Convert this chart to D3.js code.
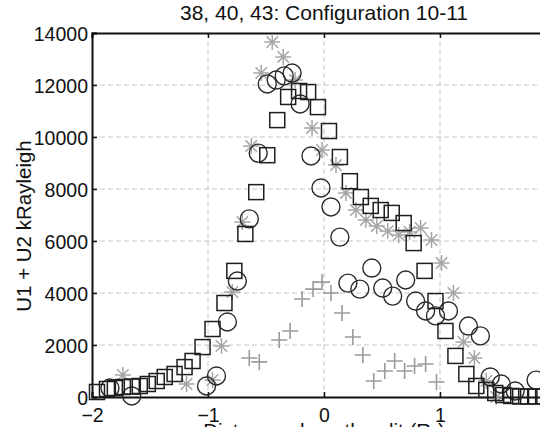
<!DOCTYPE html>
<html>
<head>
<meta charset="utf-8">
<script src="https://cdn.jsdelivr.net/npm/d3@7"></script>
<style>
  body { margin: 0; background: #fff; }
  text { font-family: "Liberation Sans", Arial, sans-serif; fill: #111; }
</style>
</head>
<body>
<script>
'use strict';

// tick values (x = 2 falls just past the right edge of the window)
const xTicks = [-2, -1, 0, 1];
const yTicks = [0, 2000, 4000, 6000, 8000, 10000, 12000, 14000];

// squares (black)
const squareX = [-1.957, -1.871, -1.803, -1.734, -1.657, -1.588, -1.519, -1.442, -1.373, -1.288,
  -1.202, -1.133, -1.047, -0.961, -0.858, -0.773, -0.678, -0.584, -0.489, -0.403,
  -0.309, -0.215, -0.137, -0.052, 0.043, 0.137, 0.223, 0.318, 0.403, 0.489,
  0.584, 0.687, 0.773, 0.867, 0.961, 1.047, 1.133, 1.227, 1.313, 1.399,
  1.476, 1.545, 1.614, 1.691, 1.760, 1.828, 1.900, 1.970];
const squareY = [192, 308, 346, 385, 400, 423, 500, 615, 770, 885,
  1150, 1385, 1920, 2615, 3615, 4850, 6270, 7880, 9300, 10650,
  11540, 11770, 11730, 11150, 10230, 9230, 8300, 7690, 7350, 7190,
  7080, 6690, 5920, 4850, 3690, 2540, 1580, 885, 423, 270,
  154, 77, 40, 20, 20, 20, 20, 20];

// circles (black)
const circleX = [-1.845, -1.657, -1.013, -0.927, -0.833, -0.747, -0.644, -0.567, -0.489, -0.412,
  -0.343, -0.275, -0.206, -0.112, -0.026, 0.060, 0.137, 0.206, 0.309, 0.412,
  0.506, 0.592, 0.704, 0.790, 0.876, 0.961, 1.073, 1.245, 1.348, 1.433,
  1.528, 1.648, 1.828];
const circleY = [346, 40, 423, 808, 2885, 4460, 6850, 9380, 12040, 12190,
  12350, 12460, 11270, 9270, 8040, 7310, 6150, 4380, 4150, 4960,
  4190, 3880, 4500, 3690, 3310, 3120, 3310, 2730, 2350, 770,
  500, 230, 650];

// asterisks (grey)
const starX = [-1.734, -1.185, -0.961, -0.884, -0.790, -0.704, -0.627, -0.541, -0.446, -0.352,
  -0.249, -0.103, -0.017, 0.103, 0.189, 0.275, 0.361, 0.455, 0.549, 0.644,
  0.738, 0.833, 0.927, 1.013, 1.116, 1.202, 1.296, 1.399, 1.485];
const starY = [846, 500, 654, 1960, 4040, 6730, 9650, 12460, 13650, 13080,
  12190, 10350, 9500, 8920, 7850, 7190, 6810, 6580, 6380, 6230,
  6350, 6500, 6040, 5150, 4000, 2120, 1500, 615, 0];

// plus signs (grey)
const plusX = [-0.644, -0.558, -0.386, -0.292, -0.189, -0.094, -0.017, 0.060, 0.155, 0.249,
  0.335, 0.429, 0.524, 0.609, 0.695, 0.781, 0.876, 0.970];
const plusY = [1500, 1350, 2190, 2540, 3770, 4150, 4420, 4000, 3230, 2310,
  1615, 615, 1000, 1385, 1000, 1190, 1270, 577];

(function() {

  const width = 540, height = 427;
  const left = 92, right = 556, top = 33, bottom = 397;

  let svg = d3.select('body')
    .append('svg')
    .attr('width', width)
    .attr('height', height);

  let xScale = d3.scaleLinear().domain([-2, 2]).range([left, right]);
  let yScale = d3.scaleLinear().domain([0, 14000]).range([bottom, top]);

  // dashed grid
  let grid = svg.append('g')
    .attr('stroke', '#c4c4c4')
    .attr('stroke-width', 1)
    .attr('stroke-dasharray', '5,3');
  xTicks.slice(1).forEach(function(t) {
    grid.append('line')
      .attr('x1', xScale(t)).attr('x2', xScale(t))
      .attr('y1', top).attr('y2', bottom);
  });
  yTicks.slice(1, -1).forEach(function(t) {
    grid.append('line')
      .attr('x1', left).attr('x2', right)
      .attr('y1', yScale(t)).attr('y2', yScale(t));
  });

  // axes with inward ticks
  let xAxis = d3.axisBottom(xScale).tickValues(xTicks).tickSize(-5).tickPadding(11)
    .tickFormat(d3.format('d'));
  svg.append('g')
    .attr('class', 'axis')
    .attr('transform', 'translate(0,' + bottom + ')')
    .call(xAxis);

  let xAxisTop = d3.axisTop(xScale).tickValues(xTicks).tickSize(-5).tickFormat('');
  svg.append('g')
    .attr('class', 'axis')
    .attr('transform', 'translate(0,' + top + ')')
    .call(xAxisTop);

  let yAxis = d3.axisLeft(yScale).tickValues(yTicks).tickSize(-5).tickPadding(4)
    .tickFormat(d3.format('d'));
  svg.append('g')
    .attr('class', 'axis y')
    .attr('transform', 'translate(' + left + ',0)')
    .call(yAxis);

  svg.selectAll('.axis path')
    .attr('stroke', '#111')
    .attr('stroke-width', 2);
  svg.selectAll('.axis line')
    .attr('stroke', '#111')
    .attr('stroke-width', 1.5);
  svg.selectAll('.axis text')
    .style('font-size', '19.5px')
    .style('font-family', '"Liberation Sans", Arial, sans-serif')
    .attr('fill', '#111');
  svg.selectAll('.axis.y text')
    .attr('dy', '0.38em');

  // grey plus signs
  let plusData = plusX.map((x, i) => ({ x: x, y: plusY[i] }));
  svg.append('g').selectAll('path')
    .data(plusData)
    .enter()
    .append('path')
    .attr('d', 'M-8,0H8M0,-8V8')
    .attr('transform', (d) => 'translate(' + xScale(d.x) + ',' + yScale(d.y) + ')')
    .attr('stroke', '#9a9a9a')
    .attr('stroke-width', 1.6)
    .attr('fill', 'none');

  // grey asterisks
  let starData = starX.map((x, i) => ({ x: x, y: starY[i] }));
  svg.append('g').selectAll('path')
    .data(starData)
    .enter()
    .append('path')
    .attr('d', 'M-8,0H8M0,-8V8M-5.7,-5.7L5.7,5.7M-5.7,5.7L5.7,-5.7')
    .attr('transform', (d) => 'translate(' + xScale(d.x) + ',' + yScale(d.y) + ')')
    .attr('stroke', '#a6a6a6')
    .attr('stroke-width', 1.5)
    .attr('fill', 'none');

  // black circles
  let circleData = circleX.map((x, i) => ({ x: x, y: circleY[i] }));
  svg.append('g').selectAll('circle')
    .data(circleData)
    .enter()
    .append('circle')
    .attr('cx', (d) => xScale(d.x))
    .attr('cy', (d) => yScale(d.y))
    .attr('r', 9)
    .attr('stroke', '#2a2a2a')
    .attr('stroke-width', 1.4)
    .attr('fill', 'none');

  // black squares
  let squareData = squareX.map((x, i) => ({ x: x, y: squareY[i] }));
  svg.append('g').selectAll('rect')
    .data(squareData)
    .enter()
    .append('rect')
    .attr('x', (d) => xScale(d.x) - 7.5)
    .attr('y', (d) => yScale(d.y) - 7.5)
    .attr('width', 15)
    .attr('height', 15)
    .attr('stroke', '#1e1e1e')
    .attr('stroke-width', 1.5)
    .attr('fill', 'none');

  // title and axis labels
  svg.append('text')
    .attr('x', (left + right) / 2)
    .attr('y', 20)
    .attr('text-anchor', 'middle')
    .style('font-size', '21px')
    .text('38, 40, 43: Configuration 10-11');

  let xLabel = svg.append('text')
    .attr('x', (left + right) / 2)
    .attr('y', 438)
    .attr('text-anchor', 'middle')
    .style('font-size', '20.5px')
    .text('Distance along the slit (R');
  xLabel.append('tspan')
    .attr('dy', 4)
    .style('font-size', '14px')
    .text('J');
  xLabel.append('tspan')
    .attr('dy', -4)
    .text(')');

  svg.append('text')
    .attr('transform', 'translate(31,' + ((top + bottom) / 2 + 11) + ')rotate(-90)')
    .attr('text-anchor', 'middle')
    .style('font-size', '20.5px')
    .text('U1 + U2 kRayleigh');

})();
</script>
</body>
</html>
